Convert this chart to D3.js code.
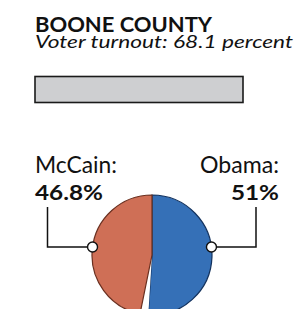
<!DOCTYPE html>
<html>
<head>
<meta charset="utf-8">
<script src="https://cdn.jsdelivr.net/npm/d3@7"></script>
<style>
  body { margin: 0; background: #fff; }
  svg { display: block; font-family: Lato, "Open Sans", sans-serif; }
</style>
</head>
<body>
<div id="chart"></div>
<script>
// county results
const countyName = "BOONE COUNTY";
const turnout = 68.1;
const candidates = ["Obama", "Other", "McCain"];
const shares = [51, 2.2, 46.8];
const sliceColors = ["#3570b7", "#ffffff", "#cf6f56"];
const sliceStrokes = ["#13325e", "none", "#6a2f1f"];

const width = 296, height = 309;

const svg = d3.select("#chart").append("svg")
    .attr("width", width)
    .attr("height", height);

// title block
svg.append("text")
    .attr("x", 35)
    .attr("y", 32)
    .attr("font-size", "21.5px")
    .attr("font-weight", "bold")
    .attr("fill", "#111")
    .attr("textLength", 177)
    .attr("lengthAdjust", "spacingAndGlyphs")
    .text(countyName);

svg.append("text")
    .attr("x", 35)
    .attr("y", 48)
    .attr("font-size", "17.5px")
    .attr("font-style", "italic")
    .attr("fill", "#111")
    .attr("textLength", 258)
    .attr("lengthAdjust", "spacingAndGlyphs")
    .text(`Voter turnout: ${turnout} percent`);

// turnout track (drawn empty, as in the print version)
const x = d3.scaleLinear().domain([0, 100]).range([35, 243]);
svg.append("rect")
    .attr("x", x(0))
    .attr("y", 76.5)
    .attr("width", x(100) - x(0))
    .attr("height", 26)
    .attr("fill", "#cecfd1")
    .attr("stroke", "#1a1a1a")
    .attr("stroke-width", 1.6);

// pie
const cx = 152, cy = 255, r = 60;
const pie = d3.pie().value(d => d.value).sort(null);
const arc = d3.arc().innerRadius(0).outerRadius(r);
const data = candidates.map((c, i) => ({ name: c, value: shares[i], i }));

const pieGroup = svg.append("g")
    .attr("transform", `translate(${cx},${cy})`);

pieGroup.selectAll(".slice")
    .data(pie(data))
    .enter()
    .append("path")
    .attr("class", "slice")
    .attr("d", arc)
    .attr("fill", d => sliceColors[d.data.i])
    .attr("stroke", d => sliceStrokes[d.data.i])
    .attr("stroke-width", 1.2);

// leader lines + labels
const dotDy = -8; // dots sit a little above centre
const dotDx = Math.sqrt(r * r - dotDy * dotDy);
const labels = [
    { name: "McCain", value: shares[2], side: -1, lineX: 47.5, textX: 35, anchor: "start", nameW: 82, valW: 68 },
    { name: "Obama", value: shares[0], side: 1, lineX: 256, textX: 279, anchor: "end", nameW: 79, valW: 48 }
];

labels.forEach(l => {
    const dx = cx + l.side * dotDx;
    const dy = cy + dotDy;

    svg.append("path")
        .attr("d", `M${l.lineX},207 V${dy} H${dx}`)
        .attr("fill", "none")
        .attr("stroke", "#111")
        .attr("stroke-width", 1.5);

    svg.append("circle")
        .attr("cx", dx)
        .attr("cy", dy)
        .attr("r", 5)
        .attr("fill", "#fff")
        .attr("stroke", "#111")
        .attr("stroke-width", 1.4);

    svg.append("text")
        .attr("x", l.textX)
        .attr("y", 172.5)
        .attr("text-anchor", l.anchor)
        .attr("font-size", "23.5px")
        .attr("fill", "#111")
        .attr("textLength", l.nameW)
        .attr("lengthAdjust", "spacingAndGlyphs")
        .text(l.name + ":");

    svg.append("text")
        .attr("x", l.textX)
        .attr("y", 199.5)
        .attr("text-anchor", l.anchor)
        .attr("font-size", "21px")
        .attr("font-weight", "bold")
        .attr("fill", "#111")
        .attr("textLength", l.valW)
        .attr("lengthAdjust", "spacingAndGlyphs")
        .text(`${d3.format(".3~")(l.value)}%`);
});
</script>
</body>
</html>
